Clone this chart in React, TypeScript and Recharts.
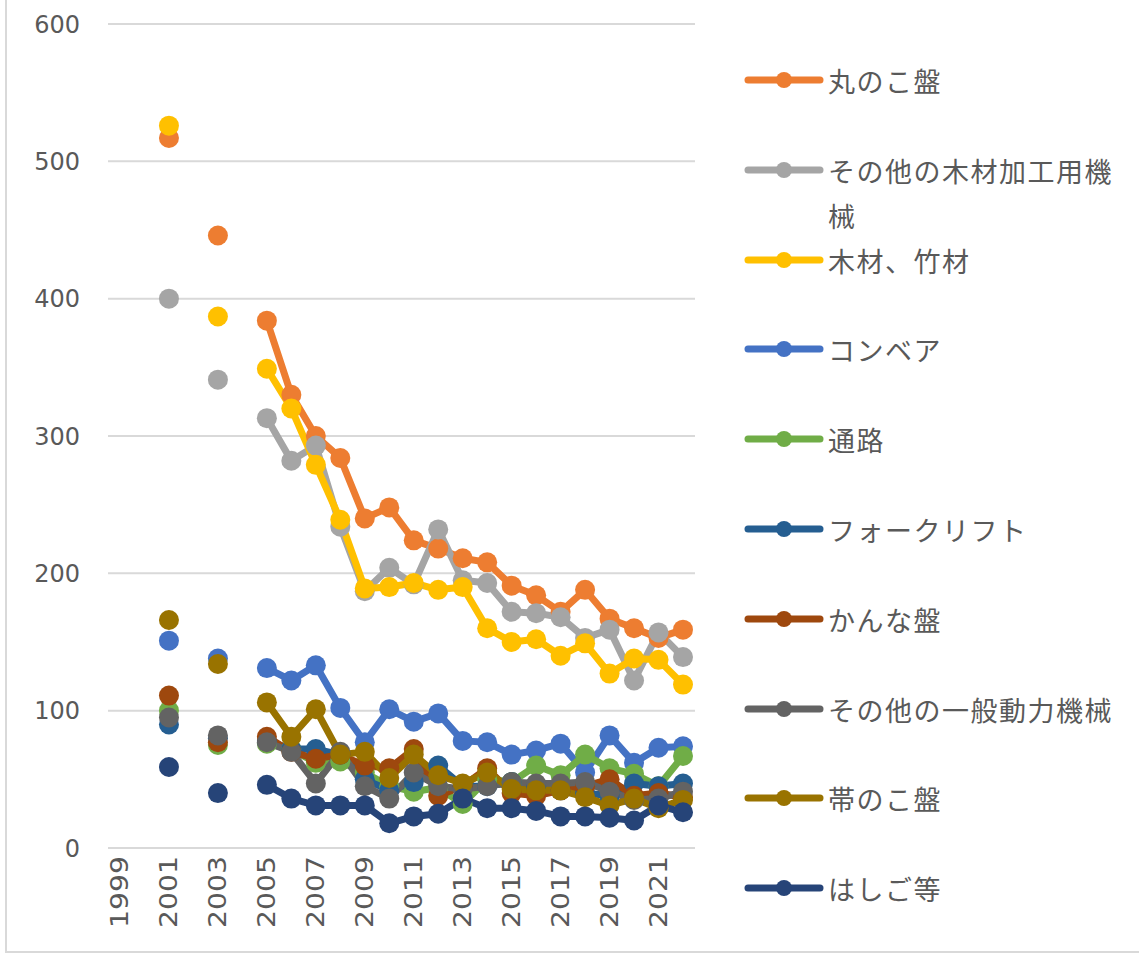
import React from 'react';
import { LineChart, Line, XAxis, YAxis, CartesianGrid, Legend } from 'recharts';

const years = ['1999','2000','2001','2002','2003','2004','2005','2006','2007','2008','2009','2010','2011','2012','2013','2014','2015','2016','2017','2018','2019','2020','2021','2022'];

const yTicks = [0, 100, 200, 300, 400, 500, 600];

const marunoko = [null,null,517,null,446,null,384,330,300,284,240,248,224,218,211,208,191,184,172,188,167,160,153,159];
const sonotaMokuzai = [null,null,400,null,341,null,313,282,293,234,187,204,192,232,195,193,172,171,168,153,159,122,157,139];
const mokuzai = [null,null,526,null,387,null,349,320,279,239,189,190,193,188,190,160,150,152,140,149,127,138,137,119];
const conveyor = [null,null,151,null,138,null,131,122,133,102,77,101,92,98,78,77,68,71,76,55,82,62,73,74];
const tsuro = [null,null,100,null,75,null,76,72,62,63,55,45,41,44,32,50,48,60,53,68,58,54,45,67];
const forklift = [null,null,90,null,80,null,78,72,72,68,50,42,48,60,45,45,48,45,42,40,38,47,45,47];
const kanna = [null,null,111,null,77,null,81,70,65,68,60,58,72,38,45,58,40,38,42,45,50,38,40,37];
const ippan = [null,null,95,null,82,null,77,70,47,70,45,36,55,45,43,45,48,47,47,48,41,35,36,41];
const obinoko = [null,null,166,null,134,null,106,81,101,68,70,51,68,53,47,55,43,42,42,37,31,36,29,35];
const hashigo = [null,null,59,null,40,null,46,36,31,31,31,18,23,25,36,29,29,27,23,23,22,20,31,26];

const seriesNames = ['丸のこ盤','その他の木材加工用機械','木材、竹材','コンベア','通路','フォークリフト','かんな盤','その他の一般動力機械','帯のこ盤','はしご等'];
const seriesValues = [marunoko, sonotaMokuzai, mokuzai, conveyor, tsuro, forklift, kanna, ippan, obinoko, hashigo];
const seriesColors = ['#ED7D31','#A5A5A5','#FFC000','#4472C4','#70AD47','#255E91','#9E480E','#636363','#997300','#264478'];

const data = years.map((y, i) => {
  const row: any = { year: y };
  seriesValues.forEach((vals, s) => { row['s' + s] = vals[i]; });
  return row;
});

const XTick = (props: any) => {
  const { x, y, payload } = props;
  return (
    <text x={x} y={y} transform={`rotate(-90 ${x} ${y})`} textAnchor="end" dominantBaseline="central"
      fill="#595959" fontSize={24} fontFamily="DejaVu Sans" textLength={72} lengthAdjust="spacingAndGlyphs">{payload.value}</text>
  );
};

const LegendContent = () => (
  <div style={{ position: 'relative', width: 0, height: 0 }}>
    {seriesNames.map((name, i) => (
      <div key={name} style={{ position: 'absolute', left: 0, top: i * 89.8, width: 400 }}>
        <svg width={80} height={24} style={{ position: 'absolute', left: -4, top: 0 }}>
          <line x1={4} y1={12} x2={76} y2={12} stroke={seriesColors[i]} strokeWidth={7} strokeLinecap="round" />
          <circle cx={40} cy={12} r={8} fill={seriesColors[i]} />
        </svg>
        <div style={{ position: 'absolute', left: 80, top: -10, width: 300, fontSize: 27, letterSpacing: 1.5,
          lineHeight: '45px', color: '#595959', fontFamily: '"Noto Sans CJK JP", sans-serif', whiteSpace: 'normal', wordBreak: 'break-all' }}>
          {name}
        </div>
      </div>
    ))}
  </div>
);

export default function App() {
  return (
    <div style={{ position: 'relative', width: 1131, height: 940 }}>
      <div style={{ position: 'fixed', left: 5, top: 0, width: 2, height: 953, background: '#d9d9d9' }} />
      <div style={{ position: 'fixed', left: 5, top: 951, width: 1134, height: 2, background: '#d9d9d9' }} />
      <div style={{ position: 'absolute', left: 0, top: 0 }}>
        <LineChart width={1131} height={948} data={data} margin={{ top: 16, right: 444, left: 0, bottom: 8 }}>
          <CartesianGrid vertical={false} stroke="#d9d9d9" strokeWidth={2} />
          <XAxis dataKey="year" interval={1} tick={<XTick />} tickLine={false} height={100}
            axisLine={{ stroke: '#d9d9d9', strokeWidth: 2 }} padding={{ left: 12, right: 12 }} />
          <YAxis domain={[0, 600]} ticks={yTicks} width={100} axisLine={false} tickLine={false} tickMargin={22}
            tick={{ fill: '#595959', fontSize: 24, fontFamily: 'DejaVu Sans' }} />
          <Legend content={<LegendContent />} layout="vertical" align="left" verticalAlign="top"
            wrapperStyle={{ position: 'absolute', left: 740, top: 60, width: 0, height: 0 }} />
          {seriesNames.map((name, i) => (
            <Line key={name} dataKey={'s' + i} name={name} stroke={seriesColors[i]} strokeWidth={7}
              strokeLinejoin="round" strokeLinecap="round"
              dot={{ r: 10, fill: seriesColors[i], stroke: seriesColors[i], strokeWidth: 0 }}
              activeDot={false} isAnimationActive={false} connectNulls={false} />
          ))}
        </LineChart>
      </div>
    </div>
  );
}
